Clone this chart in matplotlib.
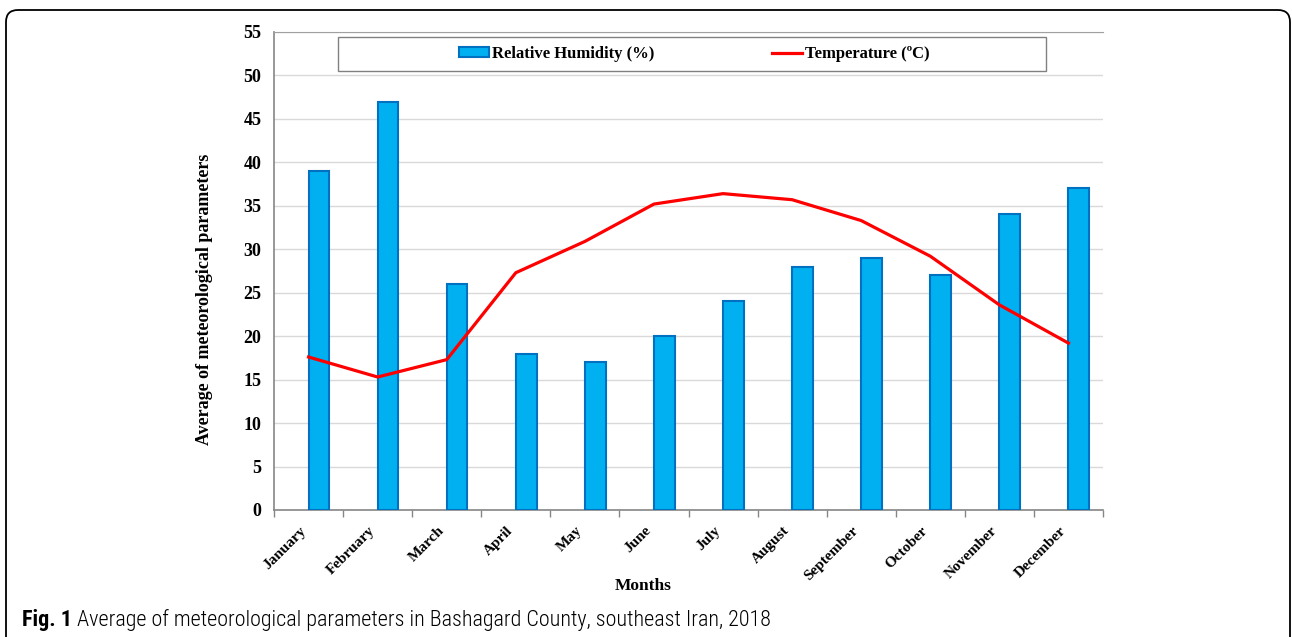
import matplotlib
matplotlib.use("Agg")
import matplotlib.pyplot as plt
from matplotlib.patches import Rectangle, FancyBboxPatch, Patch
from matplotlib.lines import Line2D
from matplotlib import font_manager

months = ["January", "February", "March", "April", "May", "June",
          "July", "August", "September", "October", "November", "December"]
humidity = [39, 47, 26, 18, 17, 20, 24, 28, 29, 27, 34, 37]
temperature = [17.6, 15.3, 17.3, 27.3, 30.9, 35.2, 36.4, 35.7, 33.3, 29.2, 23.6, 19.2]

serif = "Liberation Serif"
bar_fill = "#00b0f0"
bar_edge = "#0070c0"

fig = plt.figure(figsize=(12.92, 6.37), dpi=100)
ax = fig.add_axes([0.2121, 0.1994, 0.6416, 0.7504])

x = list(range(len(months)))
ax.bar(x, humidity, width=0.3, align="edge", color=bar_fill,
       edgecolor=bar_edge, linewidth=1.5, zorder=3)
ax.plot(x, temperature, color="red", linewidth=2.3, zorder=4)

ax.set_xlim(-0.5, 11.5)
ax.set_ylim(0, 55)
ax.set_yticks(range(0, 56, 5))
ax.set_xticks(x)
ax.set_xticks([i - 0.5 for i in range(13)], minor=True)
ax.set_xticklabels(months, rotation=45, ha="right",
                   fontfamily=serif, fontweight="bold", fontsize=11)
for lab in ax.get_yticklabels():
    lab.set_fontfamily(serif)
    lab.set_fontweight("bold")
    lab.set_fontsize(13)
ax.tick_params(axis="x", which="major", length=0, pad=10)
ax.tick_params(axis="x", which="minor", length=5, width=1, color="#868686",
               direction="out")
ax.tick_params(axis="y", length=0, pad=9)

ax.grid(axis="y", color="#d9d9d9", linewidth=1, zorder=0)
ax.set_axisbelow(True)
ax.spines["right"].set_visible(False)
ax.spines["top"].set_color("#a0a0a0")
ax.spines["left"].set_color("#868686")
ax.spines["bottom"].set_color("#868686")
ax.spines["left"].set_linewidth(1.2)
ax.spines["bottom"].set_linewidth(1.2)

ax.set_ylabel("Average of meteorological parameters", fontfamily=serif,
              fontweight="bold", fontsize=13)
ax.yaxis.set_label_coords(-0.0736, 0.44)
ax.set_xlabel("Months", fontfamily=serif, fontweight="bold", fontsize=12.5)
ax.xaxis.set_label_coords(0.445, -0.142)

# legend frame
ax.add_patch(Rectangle((0.0772, 0.9184), 0.854, 0.0711, transform=ax.transAxes,
                       facecolor="white", edgecolor="#808080", linewidth=1,
                       zorder=5))
handles = [Patch(facecolor=bar_fill, edgecolor=bar_edge, linewidth=1.5),
           Line2D([], [], color="red", linewidth=2.3)]
ax.legend(handles, ["Relative Humidity (%)", "Temperature (\u00baC)"],
          loc="center", bbox_to_anchor=(0.507, 0.954), ncol=2, frameon=False,
          handlelength=1.8, handleheight=0.5, handletextpad=0.2,
          columnspacing=7.0,
          prop={"family": serif, "weight": "bold", "size": 12}).set_zorder(6)

# outer rounded border
fig.patches.append(FancyBboxPatch((0.06, -0.2), 12.84, 6.47,
                                  boxstyle="round,pad=0,rounding_size=0.12",
                                  transform=fig.dpi_scale_trans, facecolor="none",
                                  edgecolor="black", linewidth=1.3))

installed = {f.name for f in font_manager.fontManager.ttflist}
cap_font = [f for f in ["Roboto Condensed", "Open Sans Condensed",
                        "Liberation Sans Narrow", "Roboto"] if f in installed]
cap_font = cap_font[:1] + ["DejaVu Sans"]
cap_size = 15.7
t1 = fig.text(22 / 1292, 1 - 620 / 637, "Fig. 1", fontfamily=cap_font,
              fontweight="bold", fontsize=cap_size, va="center")
r = fig.canvas.get_renderer()
bb = t1.get_window_extent(renderer=r)
t2 = fig.text((bb.x1 + 5) / 1292, 1 - 620 / 637,
              "Average of meteorological parameters in Bashagard County, southeast Iran, 2018",
              fontfamily=cap_font, fontweight="light", fontsize=cap_size,
              va="center")
# fit the caption to the reference width
bb2 = t2.get_window_extent(renderer=r)
scale = (773 - 22) / (bb2.x1 - 22)
t1.set_fontsize(cap_size * scale)
t2.set_fontsize(cap_size * scale)
bb = t1.get_window_extent(renderer=r)
t2.set_x((bb.x1 + 5) / 1292)

fig.savefig("out.png", dpi=100)
